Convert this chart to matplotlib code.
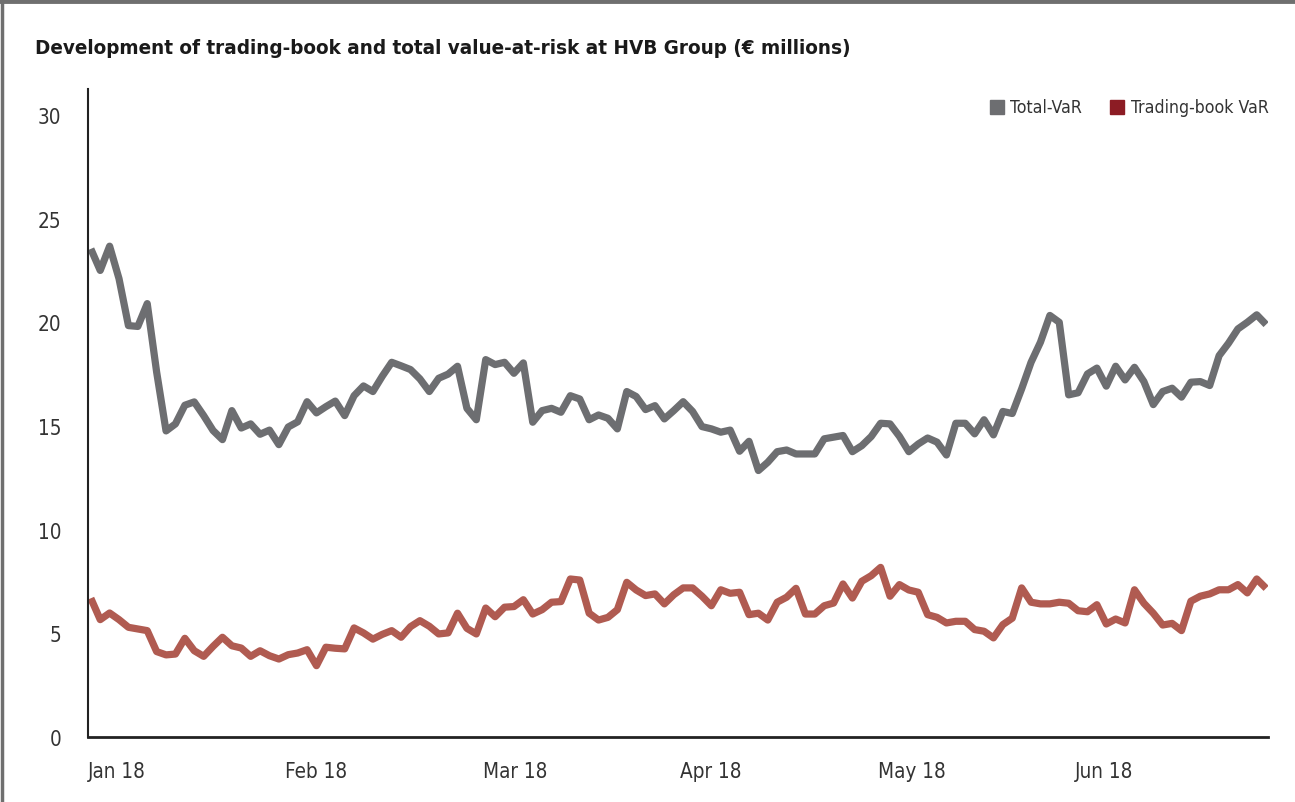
import matplotlib
matplotlib.use("Agg")
import matplotlib.pyplot as plt
from matplotlib.patches import Rectangle
from matplotlib.lines import Line2D
from matplotlib import font_manager as fm
import numpy as np

total_var = [23.54, 22.5, 23.67, 22.1, 19.84, 19.8, 20.9, 17.6, 14.76, 15.1,
             16.0, 16.16, 15.5, 14.78, 14.34, 15.74, 14.9, 15.1, 14.6, 14.8,
             14.1, 14.95, 15.2, 16.17, 15.63, 15.93, 16.2, 15.5, 16.46, 16.93,
             16.66, 17.4, 18.07, 17.9, 17.72, 17.27, 16.66, 17.3, 17.5, 17.88,
             15.85, 15.3, 18.2, 17.96, 18.07, 17.54, 18.04, 15.18, 15.74, 15.85,
             15.66, 16.46, 16.3, 15.3, 15.53, 15.37, 14.86, 16.66, 16.42, 15.79,
             15.98, 15.34, 15.74, 16.17, 15.7, 14.97, 14.86, 14.7, 14.8, 13.78,
             14.26, 12.85, 13.25, 13.76, 13.84, 13.65, 13.65, 13.65, 14.38, 14.46,
             14.54, 13.76, 14.05, 14.49, 15.13, 15.1, 14.5, 13.76, 14.13, 14.42,
             14.22, 13.6, 15.13, 15.13, 14.62, 15.3, 14.57, 15.7, 15.6, 16.79,
             18.07, 19.04, 20.33, 20.0, 16.5, 16.6, 17.51, 17.79, 16.92, 17.88,
             17.22, 17.83, 17.14, 16.03, 16.66, 16.82, 16.39, 17.11, 17.14, 16.95,
             18.39, 18.99, 19.68, 20.0, 20.36, 19.89]

trading_var = [6.69, 5.66, 5.98, 5.66, 5.29, 5.21, 5.13, 4.12, 3.96, 4.0,
               4.76, 4.16, 3.89, 4.37, 4.81, 4.4, 4.29, 3.89, 4.16, 3.92,
               3.76, 3.97, 4.05, 4.21, 3.44, 4.33, 4.28, 4.25, 5.26, 5.02,
               4.72, 4.95, 5.13, 4.81, 5.32, 5.61, 5.34, 4.97, 5.02, 5.97,
               5.24, 4.97, 6.22, 5.8, 6.26, 6.29, 6.62, 5.93, 6.14, 6.5,
               6.53, 7.62, 7.57, 5.97, 5.64, 5.77, 6.14, 7.46, 7.09, 6.82,
               6.9, 6.42, 6.86, 7.19, 7.19, 6.79, 6.33, 7.1, 6.93, 6.98,
               5.9, 5.97, 5.64, 6.5, 6.74, 7.17, 5.93, 5.93, 6.33, 6.46,
               7.38, 6.7, 7.51, 7.78, 8.18, 6.79, 7.35, 7.09, 6.98, 5.9,
               5.77, 5.5, 5.58, 5.58, 5.18, 5.1, 4.78, 5.42, 5.73, 7.19,
               6.5, 6.42, 6.42, 6.5, 6.45, 6.09, 6.04, 6.38, 5.45, 5.69,
               5.5, 7.1, 6.45, 5.97, 5.4, 5.48, 5.13, 6.55, 6.79, 6.9,
               7.1, 7.1, 7.35, 6.95, 7.62, 7.17]

month_labels = ["Jan 18", "Feb 18", "Mar 18", "Apr 18", "May 18", "Jun 18"]
y_ticks = [0, 5, 10, 15, 20, 25, 30]
series_names = ["Total-VaR", "Trading-book VaR"]
title = "Development of trading-book and total value-at-risk at HVB Group (€ millions)"


def pick_font():
    for fam, stretch in [("Liberation Sans Narrow", "normal"),
                         ("DejaVu Sans", "condensed"),
                         ("Roboto", "condensed")]:
        try:
            path = fm.findfont(fm.FontProperties(family=fam, stretch=stretch),
                               fallback_to_default=False)
        except Exception:
            continue
        low = path.lower()
        if "narrow" in low or "condensed" in low:
            return fam, stretch
    return "Liberation Sans", "normal"


FAM, STRETCH = pick_font()
plt.rcParams["font.family"] = [FAM, "DejaVu Sans"]
plt.rcParams["font.stretch"] = STRETCH

gray = "#6d6e71"
red_line = "#b05b51"
red_leg = "#8c1c24"
txt = "#333333"

W, H = 1295, 803
fig = plt.figure(figsize=(W / 100, H / 100), dpi=100)
renderer = fig.canvas.get_renderer()


def fit(t, target_w):
    bb = t.get_window_extent(renderer)
    t.set_fontsize(t.get_fontsize() * target_w / bb.width)


# frame border (top and left)
fig.add_artist(Line2D([1.5 / W, 1.5 / W], [0, 1], color="#6f6f6f", lw=2.5, transform=fig.transFigure))
fig.add_artist(Line2D([0, 1], [1 - 2 / H, 1 - 2 / H], color="#6f6f6f", lw=3.5, transform=fig.transFigure))

ax_l, ax_r, ax_t, ax_b = 88, 1268, 90, 738
ax = fig.add_axes([ax_l / W, 1 - ax_b / H, (ax_r - ax_l) / W, (ax_b - ax_t) / H])

x = np.arange(len(total_var))
ax.plot(x, total_var, color=gray, lw=5.2, solid_joinstyle="round", solid_capstyle="butt")
ax.plot(x, trading_var, color=red_line, lw=5.2, solid_joinstyle="round", solid_capstyle="butt")

n = len(total_var)
ax.set_xlim(-0.2, n - 0.8)
ax.set_ylim(0, 31.25)

# sizing of tick fonts from reference: "Jan 18" ~54 px wide
probe = fig.text(0, 0, "Jan 18", fontsize=15)
fit(probe, 56)
tick_fs = probe.get_fontsize() * 1.04
probe.remove()

ax.set_yticks(y_ticks)
ax.set_yticklabels([str(v) for v in y_ticks], fontsize=tick_fs, color=txt)
tick_pos = [i * n / 6.0 - 0.3 for i in range(6)]
ax.set_xticks(tick_pos)
ax.set_xticklabels(month_labels, fontsize=tick_fs, color=txt, ha="left")
ax.tick_params(axis="both", length=0)
ax.tick_params(axis="y", pad=19)
ax.tick_params(axis="x", pad=17)
for s in ["top", "right"]:
    ax.spines[s].set_visible(False)
ax.spines["left"].set_color("#222222")
ax.spines["left"].set_linewidth(1.5)
ax.spines["bottom"].set_color("#222222")
ax.spines["bottom"].set_linewidth(2)

# title
tt = fig.text(35 / W, 1 - 48 / H, title,
              fontsize=19, fontweight="bold", color="#1a1a1a", ha="left", va="center")
fit(tt, 815)

# legend
leg_y = 108
sq = 14
fig.add_artist(Rectangle((990 / W, 1 - (leg_y + sq / 2) / H), sq / W, sq / H, color=gray, transform=fig.transFigure))
l1 = fig.text(1010 / W, 1 - leg_y / H, series_names[0], fontsize=15, color=txt, ha="left", va="center")
fit(l1, 72)
fig.add_artist(Rectangle((1110 / W, 1 - (leg_y + sq / 2) / H), sq / W, sq / H, color=red_leg, transform=fig.transFigure))
l2 = fig.text(1131 / W, 1 - leg_y / H, series_names[1], fontsize=l1.get_fontsize(), color=txt, ha="left", va="center")

fig.savefig("out.png", dpi=100, facecolor="white")
